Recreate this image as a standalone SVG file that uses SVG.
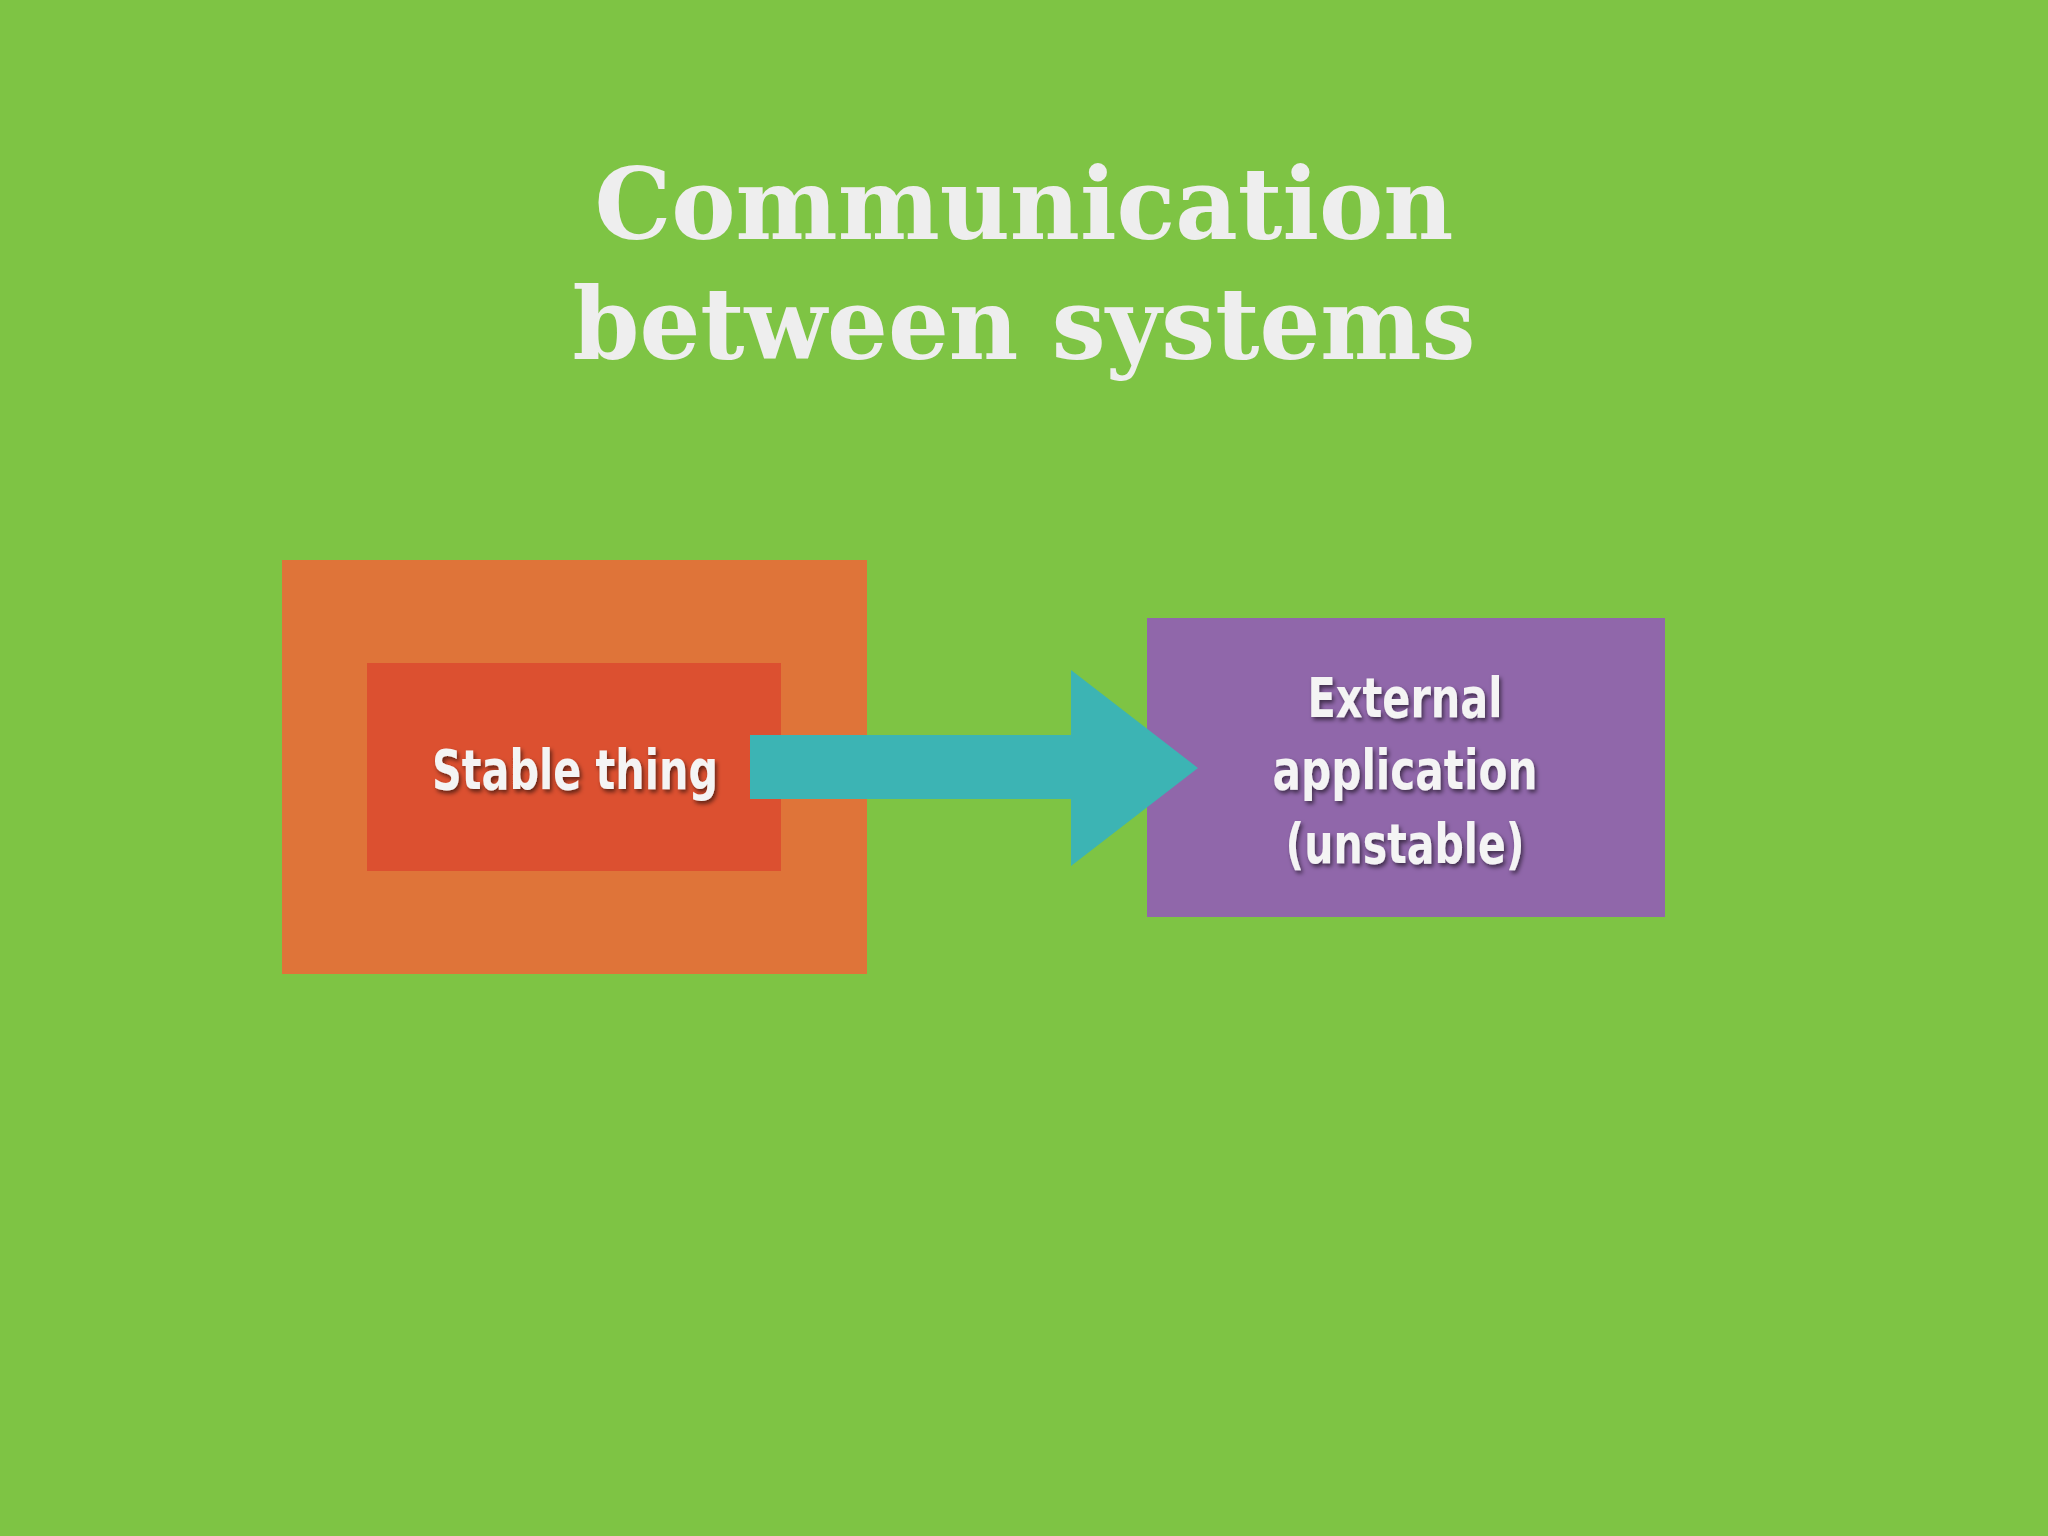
<svg xmlns="http://www.w3.org/2000/svg" width="2048" height="1536" viewBox="0 0 2048 1536">
<defs>
<style>
.title{font-family:"DejaVu Serif","Liberation Serif",serif;font-weight:bold;font-size:100px;fill:#eeeeee;text-anchor:middle}
.lbl{font-family:"DejaVu Sans Condensed","DejaVu Sans","Liberation Sans",sans-serif;font-weight:bold;font-size:56px;fill:#f4f4f4;text-anchor:middle;filter:url(#sh)}
</style>
<filter id="sh" x="-20%" y="-20%" width="140%" height="140%"><feDropShadow dx="2" dy="3" stdDeviation="2" flood-color="#000" flood-opacity="0.55"/></filter>
</defs>
<rect width="2048" height="1536" fill="#7ec444"/>
<g id="title">
<text class="title" x="1024" y="239" textLength="859" lengthAdjust="spacingAndGlyphs">Communication</text>
<text class="title" x="1024" y="359" textLength="903" lengthAdjust="spacingAndGlyphs">between systems</text>
</g>
<g id="stable-outer"><rect x="282" y="560" width="585" height="414" fill="#df7439"/></g>
<g id="stable-inner"><rect x="367" y="663" width="414" height="208" fill="#dc5030"/>
<text class="lbl" x="575" y="789" textLength="286" lengthAdjust="spacingAndGlyphs">Stable thing</text></g>
<g id="external"><rect x="1147" y="618" width="518" height="299" fill="#9067aa"/>
<text class="lbl" x="1405" y="717" textLength="195" lengthAdjust="spacingAndGlyphs">External</text>
<text class="lbl" x="1405" y="789" textLength="265" lengthAdjust="spacingAndGlyphs">application</text>
<text class="lbl" x="1405" y="863" textLength="239" lengthAdjust="spacingAndGlyphs">(unstable)</text></g>
<g id="connectors"><polygon points="750,735 1071,735 1071,670 1198,768 1071,866 1071,799 750,799" fill="#3cb4b4"/></g>
</svg>
